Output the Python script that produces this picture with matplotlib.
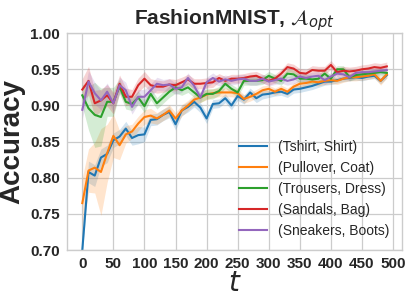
import numpy as np
import matplotlib
matplotlib.use("Agg")
import matplotlib.pyplot as plt

steps = list(range(0, 500, 10))

labels = ["(Tshirt, Shirt)", "(Pullover, Coat)", "(Trousers, Dress)",
          "(Sandals, Bag)", "(Sneakers, Boots)"]

tshirt_shirt = [0.700, 0.808, 0.803, 0.828, 0.833, 0.852, 0.857, 0.868, 0.855, 0.859,
                0.860, 0.880, 0.881, 0.887, 0.891, 0.874, 0.893, 0.898, 0.905, 0.897,
                0.882, 0.902, 0.903, 0.910, 0.900, 0.913, 0.908, 0.918, 0.910, 0.915,
                0.916, 0.918, 0.919, 0.916, 0.922, 0.923, 0.925, 0.927, 0.930, 0.933,
                0.933, 0.935, 0.937, 0.938, 0.939, 0.938, 0.940, 0.941, 0.934, 0.942]
pullover_coat = [0.765, 0.810, 0.814, 0.808, 0.834, 0.858, 0.845, 0.860, 0.864, 0.875,
                 0.884, 0.886, 0.882, 0.887, 0.893, 0.882, 0.893, 0.900, 0.908, 0.911,
                 0.915, 0.917, 0.918, 0.918, 0.918, 0.917, 0.909, 0.912, 0.916, 0.921,
                 0.923, 0.919, 0.923, 0.919, 0.926, 0.930, 0.931, 0.933, 0.932, 0.934,
                 0.935, 0.934, 0.937, 0.939, 0.939, 0.940, 0.941, 0.943, 0.934, 0.943]
trousers_dress = [0.914, 0.896, 0.887, 0.884, 0.905, 0.905, 0.926, 0.905, 0.902, 0.911,
                  0.899, 0.916, 0.903, 0.911, 0.919, 0.925, 0.921, 0.925, 0.918, 0.911,
                  0.916, 0.916, 0.920, 0.930, 0.923, 0.918, 0.934, 0.934, 0.934, 0.935,
                  0.941, 0.937, 0.934, 0.944, 0.943, 0.937, 0.937, 0.936, 0.937, 0.944,
                  0.937, 0.950, 0.950, 0.939, 0.942, 0.943, 0.944, 0.945, 0.946, 0.945]
sandals_bag = [0.922, 0.934, 0.903, 0.907, 0.914, 0.903, 0.930, 0.912, 0.912, 0.928,
               0.937, 0.928, 0.926, 0.926, 0.929, 0.928, 0.932, 0.936, 0.930, 0.930,
               0.931, 0.932, 0.938, 0.934, 0.937, 0.937, 0.938, 0.940, 0.941, 0.937,
               0.934, 0.937, 0.944, 0.953, 0.951, 0.945, 0.944, 0.949, 0.948, 0.948,
               0.956, 0.946, 0.948, 0.947, 0.948, 0.950, 0.951, 0.953, 0.952, 0.954]
sneakers_boots = [0.894, 0.933, 0.917, 0.907, 0.919, 0.903, 0.928, 0.921, 0.898, 0.912,
                  0.912, 0.921, 0.930, 0.928, 0.929, 0.923, 0.925, 0.938, 0.927, 0.911,
                  0.932, 0.938, 0.933, 0.936, 0.934, 0.936, 0.937, 0.934, 0.934, 0.937,
                  0.933, 0.935, 0.937, 0.934, 0.936, 0.940, 0.938, 0.940, 0.941, 0.935,
                  0.940, 0.944, 0.943, 0.939, 0.945, 0.946, 0.946, 0.947, 0.948, 0.949]

# half-widths of the shaded bands
tshirt_shirt_err = [0.004, 0.015, 0.015, 0.012, 0.012, 0.010, 0.010, 0.010, 0.010, 0.012,
                    0.010, 0.008, 0.008, 0.008, 0.008, 0.008, 0.007, 0.007, 0.007, 0.007,
                    0.007, 0.006, 0.006, 0.006, 0.006, 0.006, 0.006, 0.006, 0.006, 0.006,
                    0.005, 0.005, 0.005, 0.005, 0.005, 0.005, 0.005, 0.005, 0.005, 0.005,
                    0.004, 0.004, 0.004, 0.004, 0.004, 0.004, 0.004, 0.004, 0.004, 0.004]
pullover_coat_err = [0.035, 0.030, 0.035, 0.060, 0.040, 0.030, 0.020, 0.012, 0.010, 0.010,
                     0.010, 0.010, 0.008, 0.008, 0.008, 0.008, 0.008, 0.007, 0.007, 0.007,
                     0.007, 0.006, 0.006, 0.006, 0.006, 0.006, 0.006, 0.006, 0.006, 0.006,
                     0.005, 0.005, 0.005, 0.005, 0.005, 0.005, 0.005, 0.005, 0.005, 0.005,
                     0.005, 0.005, 0.005, 0.005, 0.005, 0.005, 0.005, 0.005, 0.006, 0.005]
trousers_dress_err = [0.015, 0.030, 0.045, 0.040, 0.020, 0.020, 0.010, 0.010, 0.009, 0.009,
                      0.009, 0.008, 0.008, 0.008, 0.008, 0.008, 0.007, 0.007, 0.007, 0.007,
                      0.007, 0.007, 0.006, 0.006, 0.006, 0.006, 0.006, 0.006, 0.006, 0.006,
                      0.006, 0.006, 0.006, 0.006, 0.006, 0.006, 0.006, 0.006, 0.006, 0.006,
                      0.005, 0.005, 0.005, 0.005, 0.005, 0.005, 0.005, 0.005, 0.005, 0.005]
sandals_bag_err = [0.015, 0.020, 0.018, 0.015, 0.015, 0.015, 0.012, 0.012, 0.010, 0.010,
                   0.010, 0.009, 0.009, 0.008, 0.008, 0.008, 0.007, 0.007, 0.007, 0.007,
                   0.007, 0.007, 0.006, 0.006, 0.006, 0.006, 0.006, 0.006, 0.006, 0.006,
                   0.006, 0.006, 0.006, 0.006, 0.006, 0.006, 0.006, 0.006, 0.006, 0.006,
                   0.006, 0.006, 0.006, 0.006, 0.006, 0.006, 0.006, 0.006, 0.006, 0.006]
sneakers_boots_err = [0.012, 0.015, 0.015, 0.013, 0.012, 0.012, 0.011, 0.011, 0.010, 0.010,
                      0.010, 0.009, 0.009, 0.008, 0.008, 0.008, 0.007, 0.007, 0.007, 0.007,
                      0.007, 0.007, 0.006, 0.006, 0.006, 0.006, 0.006, 0.006, 0.006, 0.006,
                      0.006, 0.006, 0.006, 0.006, 0.006, 0.006, 0.006, 0.006, 0.006, 0.006,
                      0.005, 0.005, 0.005, 0.005, 0.005, 0.005, 0.005, 0.005, 0.005, 0.005]

series = [tshirt_shirt, pullover_coat, trousers_dress, sandals_bag, sneakers_boots]
errors = [tshirt_shirt_err, pullover_coat_err, trousers_dress_err, sandals_bag_err, sneakers_boots_err]
colors = ["#1f77b4", "#ff7f0e", "#2ca02c", "#d62728", "#9467bd"]

plt.rcParams['font.family'] = ['Liberation Sans', 'DejaVu Sans']

fig = plt.figure(figsize=(4.09, 3.01), dpi=100)
ax = fig.add_axes([0.164, 0.169, 0.819, 0.721])
ax.set_facecolor("white")
ax.grid(True, color="#cccccc", linewidth=0.9)
ax.set_axisbelow(True)
for sp in ax.spines.values():
    sp.set_color("#cccccc")
    sp.set_linewidth(1.0)

x = np.array(steps)
for vals, err, c, lab in zip(series, errors, colors, labels):
    v = np.array(vals)
    e = np.array(err)
    ax.fill_between(x, v - e, v + e, color=c, alpha=0.2, linewidth=0)
    ax.plot(x, v, color=c, linewidth=1.5, label=lab)

ax.set_ylim(0.70, 1.00)
ax.set_xticks(range(0, 501, 50))
ax.set_yticks(np.arange(0.70, 1.001, 0.05))
ax.yaxis.set_major_formatter(matplotlib.ticker.FormatStrFormatter('%.2f'))
ax.tick_params(axis='both', length=0, pad=5, labelsize=11, colors="#262626")
for lab in ax.get_xticklabels() + ax.get_yticklabels():
    lab.set_fontweight('bold')

ax.set_title(r'FashionMNIST, $\mathcal{A}_{opt}$', fontsize=15, fontweight='bold', color="#262626", pad=6)
ax.set_xlabel(r'$t$', fontsize=20, color="#262626", labelpad=0)
ax.set_ylabel('Accuracy', fontsize=20, fontweight='bold', color="#262626", labelpad=4)

leg = ax.legend(loc='lower right', frameon=False, fontsize=10)
for t in leg.get_texts():
    t.set_color("#262626")

fig.savefig("out.png", dpi=100)
